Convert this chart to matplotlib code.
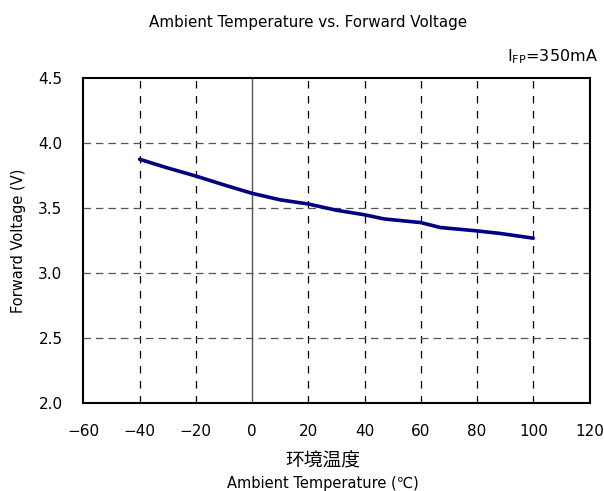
import matplotlib
matplotlib.use("Agg")
import matplotlib.pyplot as plt

plt.rcParams['font.family'] = ['DejaVu Sans', 'Noto Sans CJK JP']

temps = [-40, -30, -20, -10, 0, 10, 20, 30, 40, 47, 60, 67, 80, 88, 100]
volts = [3.877, 3.81, 3.748, 3.68, 3.615, 3.565, 3.533, 3.485, 3.45, 3.418, 3.39, 3.352, 3.326, 3.307, 3.27]
xticks = [-60, -40, -20, 0, 20, 40, 60, 80, 100, 120]
yticks = [2.0, 2.5, 3.0, 3.5, 4.0, 4.5]

fig = plt.figure(figsize=(6.04, 4.91), dpi=100)
ax = fig.add_axes([0.138, 0.1786, 0.838, 0.662])
ax.set_xlim(-60, 120)
ax.set_ylim(2.0, 4.5)

for x in xticks[1:-1]:
    if x == 0:
        ax.axvline(x, color='#555555', lw=1.0, zorder=1)
    else:
        ax.axvline(x, color='black', lw=0.9, ls=(0, (6, 6)), zorder=1)
for y in yticks[1:-1]:
    ax.axhline(y, color='#555555', lw=0.9, ls=(0, (6, 4)), zorder=1)

ax.plot(temps, volts, color='#000080', lw=2.6, zorder=3, solid_capstyle='round')

ax.set_xticks(xticks)
ax.set_xticklabels([('\u2212' + str(-v)) if v < 0 else str(v) for v in xticks])
ax.set_yticks(yticks)
ax.set_yticklabels([f"{v:.1f}" for v in yticks])
ax.tick_params(axis='both', length=0, labelsize=11)
ax.tick_params(axis='x', pad=15)
ax.tick_params(axis='y', pad=15)
for s in ax.spines.values():
    s.set_linewidth(1.5)
    s.set_color('black')

ax.set_ylabel('Forward Voltage (V)', fontsize=10.5)
ax.yaxis.set_label_coords(-0.114, 0.5)
fig.text(0.51, 0.955, 'Ambient Temperature vs. Forward Voltage', ha='center', va='center', fontsize=10.9)
fig.text(0.99, 0.884, r'I$_{\mathrm{FP}}$=350mA', ha='right', va='center', fontsize=11.5)
fig.text(0.535, 0.061, '环境温度', ha='center', va='center', fontsize=13.5,
         family=['Noto Sans CJK JP', 'DejaVu Sans'])
fig.text(0.535, 0.016, 'Ambient Temperature (℃)', ha='center', va='center', fontsize=10.5,
         family=['DejaVu Sans', 'Noto Sans CJK JP'])

fig.savefig('out.png', dpi=100)
